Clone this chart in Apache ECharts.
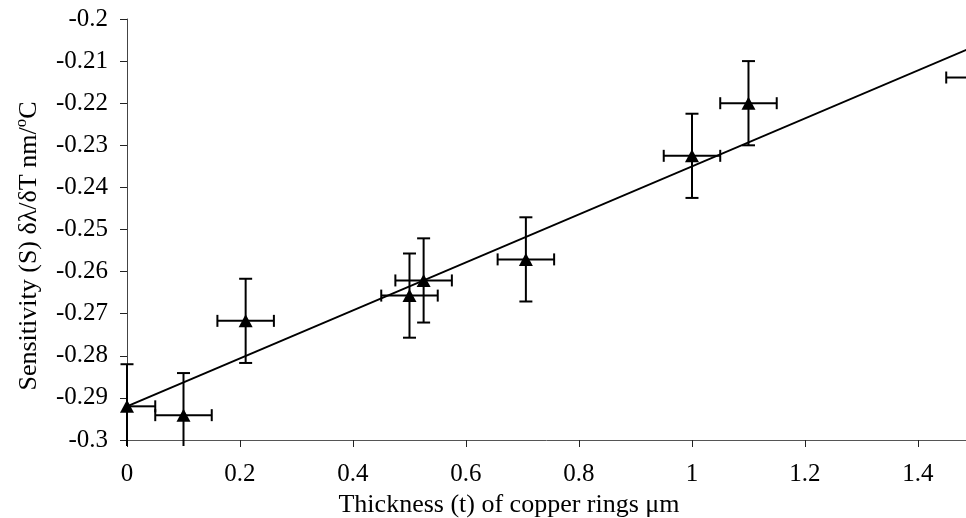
<!DOCTYPE html>
<html>
<head>
<meta charset="utf-8">
<script src="https://cdn.jsdelivr.net/npm/echarts@6/dist/echarts.min.js"></script>
<style>html,body{margin:0;padding:0;background:#fff}#c{width:966px;height:518px}</style>
</head>
<body>
<div id="c"></div>
<script>
// Data
var thickness   = [0, 0.1, 0.21, 0.5, 0.525, 0.706, 1.0, 1.1, 1.5];
var sensitivity = [-0.2920, -0.2941, -0.2717, -0.2657, -0.2621, -0.2571, -0.2325, -0.2200, -0.2139];
var xError      = [0.05, 0.05, 0.05, 0.05, 0.05, 0.05, 0.05, 0.05, 0.05];
var yError      = [0.01, 0.01, 0.01, 0.01, 0.01, 0.01, 0.01, 0.01, 0.01];
var fitX        = [0, 1.5];
var fitY        = [-0.2920, -0.2065];
var xTicks      = [0, 0.2, 0.4, 0.6, 0.8, 1, 1.2, 1.4];
var yTicks      = [-0.3, -0.29, -0.28, -0.27, -0.26, -0.25, -0.24, -0.23, -0.22, -0.21, -0.2];

var FONT = 'Liberation Serif';
var chart = echarts.init(document.getElementById('c'), null, {renderer: 'canvas'});

var errData = thickness.map(function (x, i) { return [x, sensitivity[i], xError[i], yError[i]]; });
var pts = thickness.map(function (x, i) { return [x, sensitivity[i]]; });
var fit = fitX.map(function (x, i) { return [x, fitY[i]]; });

function renderErr(params, api) {
  var cs = params.coordSys;
  var x = api.value(0), y = api.value(1), ex = api.value(2), ey = api.value(3);
  var top = api.coord([x, y + ey]);
  var bot = api.coord([x, y - ey]);
  var lft = api.coord([x - ex, y]);
  var rgt = api.coord([x + ex, y]);
  var cw = 6.5, ch = 6;
  var st = {stroke: '#000', lineWidth: 2};
  var kids = [];
  var yLow = cs.y + cs.height + 6;   // error bars are cut a little below the x axis
  var vb = Math.min(bot[1], yLow);
  if (top[0] <= cs.x + cs.width + 2) {
    kids.push({type: 'line', shape: {x1: top[0], y1: top[1], x2: bot[0], y2: vb}, style: st});
    kids.push({type: 'line', shape: {x1: top[0] - cw, y1: top[1], x2: top[0] + cw, y2: top[1]}, style: st});
    if (bot[1] <= yLow) {
      kids.push({type: 'line', shape: {x1: bot[0] - cw, y1: bot[1], x2: bot[0] + cw, y2: bot[1]}, style: st});
    }
  }
  var hl = Math.max(lft[0], cs.x);
  var hr = Math.min(rgt[0], cs.x + cs.width);
  kids.push({type: 'line', shape: {x1: hl, y1: lft[1], x2: hr, y2: rgt[1]}, style: st});
  if (lft[0] >= cs.x) {
    kids.push({type: 'line', shape: {x1: lft[0], y1: lft[1] - ch, x2: lft[0], y2: lft[1] + ch}, style: st});
  }
  if (rgt[0] <= cs.x + cs.width) {
    kids.push({type: 'line', shape: {x1: rgt[0], y1: rgt[1] - ch, x2: rgt[0], y2: rgt[1] + ch}, style: st});
  }
  return {type: 'group', children: kids};
}

chart.setOption({
  animation: false,
  backgroundColor: '#fff',
  grid: {left: 127, right: 0, top: 19, bottom: 78, containLabel: false, outerBoundsMode: 'none'},
  xAxis: {
    type: 'value', min: 0, max: 1.485, interval: 0.2,
    name: 'Thickness (t) of copper rings μm',
    nameLocation: 'middle', nameGap: 47,
    nameTextStyle: {fontFamily: FONT, fontSize: 26, color: '#000', padding: [0, 75, 0, 0]},
    axisLine: {show: true, onZero: false, lineStyle: {color: '#555', width: 1}},
    axisTick: {show: true, length: 7, inside: false, lineStyle: {color: '#222'}, customValues: xTicks},
    axisLabel: {fontFamily: FONT, fontSize: 25, color: '#000', margin: 22, customValues: xTicks},
    splitLine: {show: false}
  },
  yAxis: {
    type: 'value', min: -0.3, max: -0.2, interval: 0.01,
    name: 'Sensitivity (S) δλ/δT nm/{sup|o}C',
    nameLocation: 'middle', nameGap: 81, nameRotate: 90,
    nameTextStyle: {fontFamily: FONT, fontSize: 26, color: '#000', padding: [0, 33, 0, 0],
      rich: {sup: {fontFamily: FONT, fontSize: 17, color: '#000', verticalAlign: 'top', padding: [0, 0, 16, 0]}}},
    axisLine: {show: true, onZero: false, lineStyle: {color: '#444', width: 1}},
    axisTick: {show: true, length: 7, inside: false, lineStyle: {color: '#222'}, customValues: yTicks},
    axisLabel: {fontFamily: FONT, fontSize: 25, color: '#000', margin: 19, customValues: yTicks,
      formatter: function (v) { return String(Math.round(v * 1000) / 1000); }},
    splitLine: {show: false}
  },
  series: [
    {
      type: 'line', data: fit, showSymbol: false, symbol: 'none', clip: true,
      lineStyle: {color: '#000', width: 2}, z: 2
    },
    {
      type: 'custom', data: errData, renderItem: renderErr, clip: false, z: 3,
      encode: {x: 0, y: 1}
    },
    {
      type: 'scatter', data: pts, symbol: 'triangle', symbolSize: [14, 13], clip: false,
      itemStyle: {color: '#000', opacity: 1}, z: 4
    }
  ]
});
</script>
</body>
</html>
